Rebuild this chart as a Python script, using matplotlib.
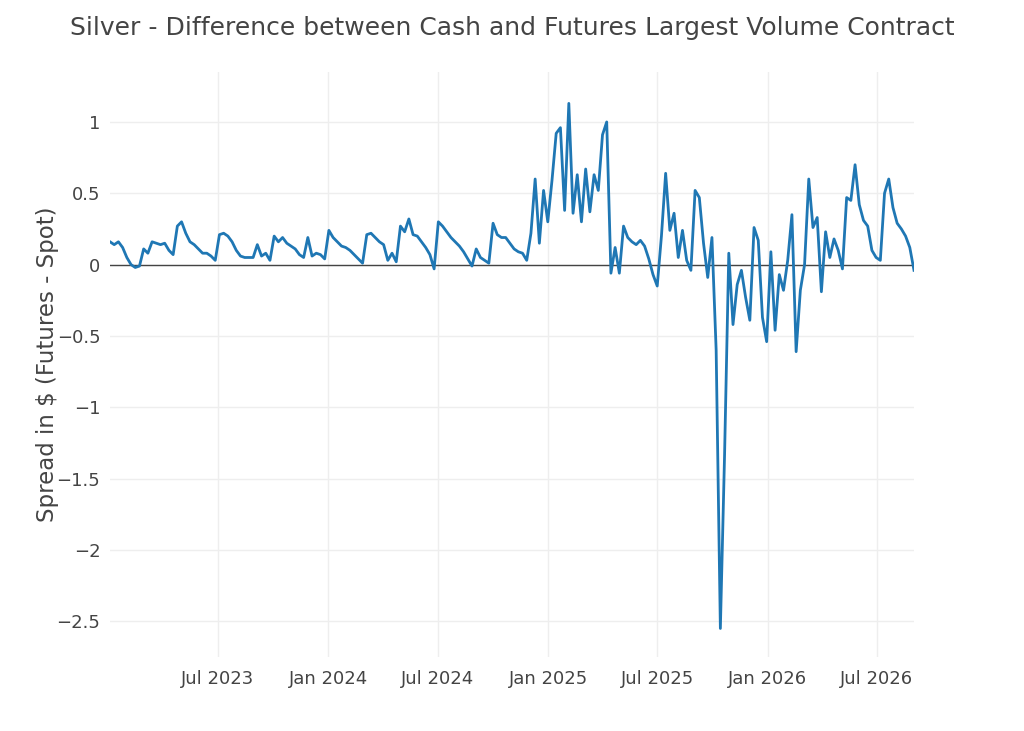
import numpy as np
import pandas as pd
import matplotlib
matplotlib.use("Agg")
from matplotlib import pyplot as plt
import matplotlib.dates as mdates

# weekly readings of the futures-spot spread, starting 2023-01-03
start_date = "2023-01-03"
spread = [
    0.16, 0.14, 0.16, 0.12, 0.05, 0.00, -0.02, -0.01, 0.11, 0.08,
    0.16, 0.15, 0.14, 0.15, 0.10, 0.07, 0.27, 0.30, 0.22, 0.16,
    0.14, 0.11, 0.08, 0.08, 0.06, 0.03, 0.21, 0.22, 0.20, 0.16,
    0.10, 0.06, 0.05, 0.05, 0.05, 0.14, 0.06, 0.08, 0.03, 0.20,
    0.16, 0.19, 0.15, 0.13, 0.11, 0.07, 0.05, 0.19, 0.06, 0.08,
    0.07, 0.04, 0.24, 0.19, 0.16, 0.13, 0.12, 0.10, 0.07, 0.04,
    0.01, 0.21, 0.22, 0.19, 0.16, 0.14, 0.03, 0.08, 0.02, 0.27,
    0.23, 0.32, 0.21, 0.20, 0.16, 0.12, 0.07, -0.03, 0.30, 0.27,
    0.23, 0.19, 0.16, 0.13, 0.09, 0.04, -0.01, 0.11, 0.05, 0.03,
    0.01, 0.29, 0.21, 0.19, 0.19, 0.15, 0.11, 0.09, 0.08, 0.03,
    0.22, 0.60, 0.15, 0.52, 0.30, 0.59, 0.92, 0.96, 0.38, 1.13,
    0.36, 0.63, 0.30, 0.67, 0.37, 0.63, 0.52, 0.91, 1.00, -0.06,
    0.12, -0.06, 0.27, 0.19, 0.16, 0.14, 0.17, 0.13, 0.04, -0.07,
    -0.15, 0.20, 0.64, 0.24, 0.36, 0.05, 0.24, 0.03, -0.04, 0.52,
    0.47, 0.15, -0.09, 0.19, -0.60, -2.55, -1.33, 0.08, -0.42, -0.14,
    -0.04, -0.23, -0.39, 0.26, 0.17, -0.37, -0.54, 0.09, -0.46, -0.07,
    -0.18, 0.03, 0.35, -0.61, -0.18, 0.00, 0.60, 0.26, 0.33, -0.19,
    0.23, 0.05, 0.18, 0.10, -0.03, 0.47, 0.45, 0.70, 0.42, 0.31,
    0.27, 0.10, 0.05, 0.03, 0.50, 0.60, 0.40, 0.29, 0.25, 0.20,
    0.12, -0.04,
]
dates = pd.date_range(start_date, periods=len(spread), freq="7D")

y_ticks = [-2.5, -2, -1.5, -1, -0.5, 0, 0.5, 1]
y_labels = ["\u22122.5", "\u22122", "\u22121.5", "\u22121", "\u22120.5", "0", "0.5", "1"]
x_ticks = ["2023-07-01", "2024-01-01", "2024-07-01", "2025-01-01",
           "2025-07-01", "2026-01-01", "2026-07-01"]

text_col = "#444444"
plt.rcParams["font.family"] = ["DejaVu Sans"]

fig = plt.figure(figsize=(10.24, 7.31), dpi=100)
ax = fig.add_axes([110 / 1024, 1 - 657 / 731, 804 / 1024, 585 / 731])

ax.plot(dates, spread, color="#1f77b4", lw=2.0, zorder=3)
ax.axhline(0, color=text_col, lw=1.0, zorder=2)

ax.set_xlim(dates[0], dates[-1])
ax.set_ylim(-2.75, 1.35)
ax.set_yticks(y_ticks)
ax.set_yticklabels(y_labels)
ax.set_xticks([pd.Timestamp(d) for d in x_ticks])
ax.xaxis.set_major_formatter(mdates.DateFormatter("%b %Y"))

ax.grid(True, color="#eeeeee", lw=1.0, zorder=0)
ax.set_axisbelow(True)
for s in ax.spines.values():
    s.set_visible(False)
ax.tick_params(length=0, colors=text_col, labelsize=13)
ax.tick_params(axis="x", pad=9)
ax.tick_params(axis="y", pad=7)

ax.set_ylabel("Spread in $ (Futures - Spot)", fontsize=16.5, color=text_col, labelpad=-2)
fig.text(0.5, 1 - 28 / 731, "Silver - Difference between Cash and Futures Largest Volume Contract",
         ha="center", va="center", fontsize=18, color=text_col)

fig.savefig("out.png", dpi=100)
